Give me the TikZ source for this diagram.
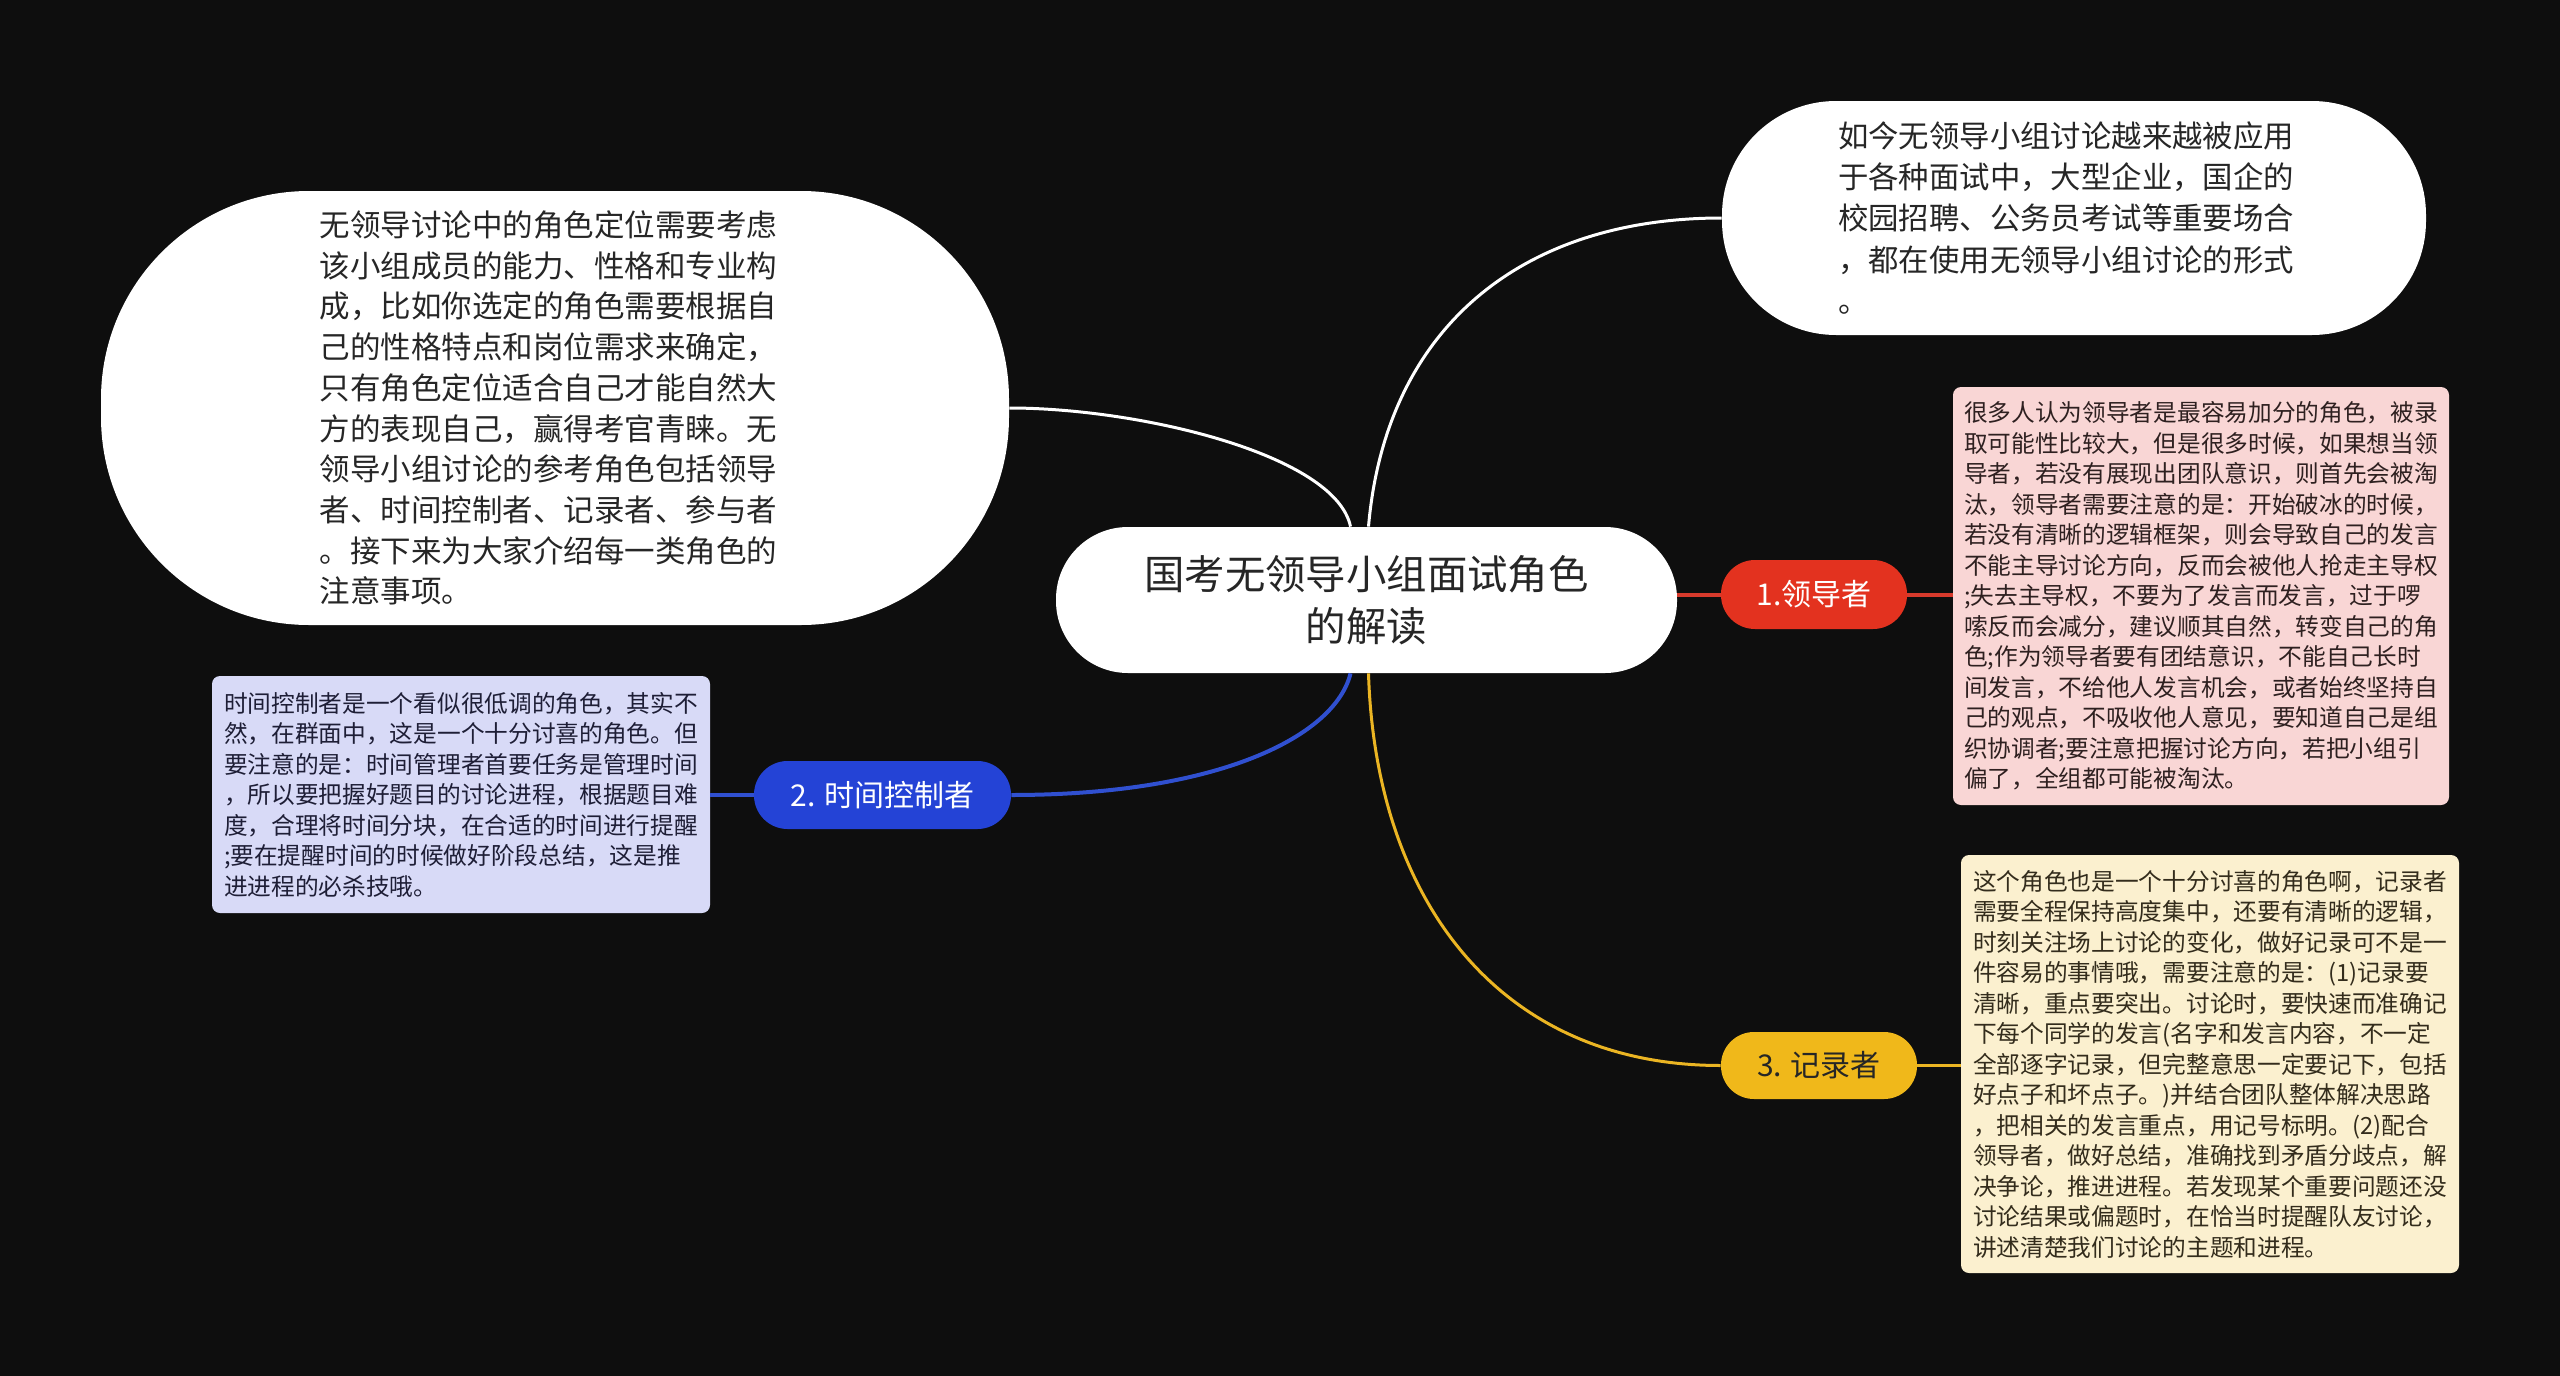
\documentclass[tikz,border=0pt]{standalone}
\usepackage{fontspec}
\setmainfont{Noto Sans CJK SC}
\definecolor{bg}{HTML}{0E0E0E}
\definecolor{redn}{HTML}{E3321F}
\definecolor{redl}{HTML}{D73A2C}
\definecolor{bluen}{HTML}{2443D6}
\definecolor{bluel}{HTML}{3050D0}
\definecolor{yeln}{HTML}{F0B81A}
\definecolor{yell}{HTML}{EBB523}
\definecolor{pinkb}{HTML}{F9D6D5}
\definecolor{lavb}{HTML}{D8DAF7}
\definecolor{creamb}{HTML}{FBF0CF}
\definecolor{darktxt}{HTML}{262626}
\definecolor{pinkt}{HTML}{2E2020}
\definecolor{lavt}{HTML}{1E1E36}
\definecolor{creamt}{HTML}{332C1C}
\begin{document}
\begin{tikzpicture}[x=0.5pt,y=0.5pt,
  whitebox/.style={fill=white, text=darktxt, align=left, inner sep=0pt},
  branch/.style={inner sep=0pt, font=\fontsize{15pt}{18pt}\selectfont},
  detail/.style={rounded corners=4pt, align=left, inner sep=0pt,
    font=\fontsize{11.85pt}{15.25pt}\selectfont},
  wline/.style={draw=white, line width=1.5pt},
]
\useasboundingbox[fill=bg] (0,0) rectangle (2560,-1376);

% central
\node[whitebox, align=center, minimum width=310.5pt, minimum height=73pt, rounded corners=36pt,
  font=\fontsize{20.2pt}{26pt}\selectfont] (c) at (1366.5,-600)
  {国考无领导小组面试角色\\的解读};

% top-left
\node[whitebox, minimum width=454pt, minimum height=217pt, rounded corners=104pt,
  font=\fontsize{15.25pt}{20.35pt}\selectfont] (tl) at (555,-408)
  {无领导讨论中的角色定位需要考虑\rule{6.5pt}{0pt}\\
   该小组成员的能力、性格和专业构\\
   成，比如你选定的角色需要根据自\\
   己的性格特点和岗位需求来确定，\\
   只有角色定位适合自己才能自然大\\
   方的表现自己，赢得考官青睐。无\\
   领导小组讨论的参考角色包括领导\\
   者、时间控制者、记录者、参与者\\
   。接下来为大家介绍每一类角色的\\
   注意事项。};

% top-right
\node[whitebox, minimum width=352pt, minimum height=117pt, rounded corners=57pt,
  font=\fontsize{15.2pt}{20.6pt}\selectfont] (tr) at (2074,-218)
  {如今无领导小组讨论越来越被应用\rule{8pt}{0pt}\\
   于各种面试中，大型企业，国企的\\
   校园招聘、公务员考试等重要场合\\
   ，都在使用无领导小组讨论的形式\\
   。};

% branch nodes
\node[branch, fill=redn, text=white, minimum width=93pt, minimum height=34.5pt, rounded corners=17pt]
  (l1) at (1814,-594.5) {1.领导者};
\node[branch, fill=bluen, text=white, minimum width=128.5pt, minimum height=34pt, rounded corners=16.8pt]
  (b2) at (882.5,-795) {2. 时间控制者};
\node[branch, fill=yeln, text=darktxt, minimum width=98pt, minimum height=33.5pt, rounded corners=16.5pt]
  (y3) at (1819,-1065.5) {3. 记录者};

% detail boxes
\node[detail, fill=pinkb, text=pinkt, minimum width=248pt, minimum height=209pt]
  (p1) at (2201,-596)
  {很多人认为领导者是最容易加分的角色，被录\\
   取可能性比较大，但是很多时候，如果想当领\\
   导者，若没有展现出团队意识，则首先会被淘\\
   汰，领导者需要注意的是：开始破冰的时候，\\
   若没有清晰的逻辑框架，则会导致自己的发言\\
   不能主导讨论方向，反而会被他人抢走主导权\\
   ;失去主导权，不要为了发言而发言，过于啰\\
   嗦反而会减分，建议顺其自然，转变自己的角\\
   色;作为领导者要有团结意识，不能自己长时\\
   间发言，不给他人发言机会，或者始终坚持自\\
   己的观点，不吸收他人意见，要知道自己是组\\
   织协调者;要注意把握讨论方向，若把小组引\\
   偏了，全组都可能被淘汰。};

\node[detail, fill=lavb, text=lavt, minimum width=249pt, minimum height=118.5pt]
  (p2) at (461,-794.5)
  {时间控制者是一个看似很低调的角色，其实不\\
   然，在群面中，这是一个十分讨喜的角色。但\\
   要注意的是：时间管理者首要任务是管理时间\\
   ，所以要把握好题目的讨论进程，根据题目难\\
   度，合理将时间分块，在合适的时间进行提醒\\
   ;要在提醒时间的时候做好阶段总结，这是推\\
   进进程的必杀技哦。};

\node[detail, fill=creamb, text=creamt, minimum width=249pt, minimum height=209pt]
  (p3) at (2210,-1064)
  {这个角色也是一个十分讨喜的角色啊，记录者\\
   需要全程保持高度集中，还要有清晰的逻辑，\\
   时刻关注场上讨论的变化，做好记录可不是一\\
   件容易的事情哦，需要注意的是：(1)记录要\\
   清晰，重点要突出。讨论时，要快速而准确记\\
   下每个同学的发言(名字和发言内容，不一定\\
   全部逐字记录，但完整意思一定要记下，包括\\
   好点子和坏点子。)并结合团队整体解决思路\\
   ，把相关的发言重点，用记号标明。(2)配合\\
   领导者，做好总结，准确找到矛盾分歧点，解\\
   决争论，推进进程。若发现某个重要问题还没\\
   讨论结果或偏题时，在恰当时提醒队友讨论，\\
   讲述清楚我们讨论的主题和进程。};

% connectors from central
\draw[wline] ([xshift=-8pt]c.north) .. controls +(-15,72) and +(130,0) .. (tl.east);
\draw[wline] ([xshift=1pt]c.north) .. controls +(17,197) and +(-202,0) .. (tr.west);
\draw[draw=bluel, line width=2pt] ([xshift=-8pt]c.south) .. controls +(-15,-62) and +(209,0) .. (b2.east);
\draw[draw=yell, line width=1.5pt] ([xshift=1pt]c.south) .. controls +(7,-227) and +(-221,0) .. (y3.west);
\draw[draw=redl, line width=2pt] (l1.west -| c.east) -- (l1.west);

% branch to detail
\draw[draw=redl, line width=2pt] (l1.east) -- (l1.east -| p1.west);
\draw[draw=bluel, line width=2pt] (b2.west) -- (b2.west -| p2.east);
\draw[draw=yell, line width=1.5pt] (y3.east) -- (y3.east -| p3.west);
\end{tikzpicture}
\end{document}
